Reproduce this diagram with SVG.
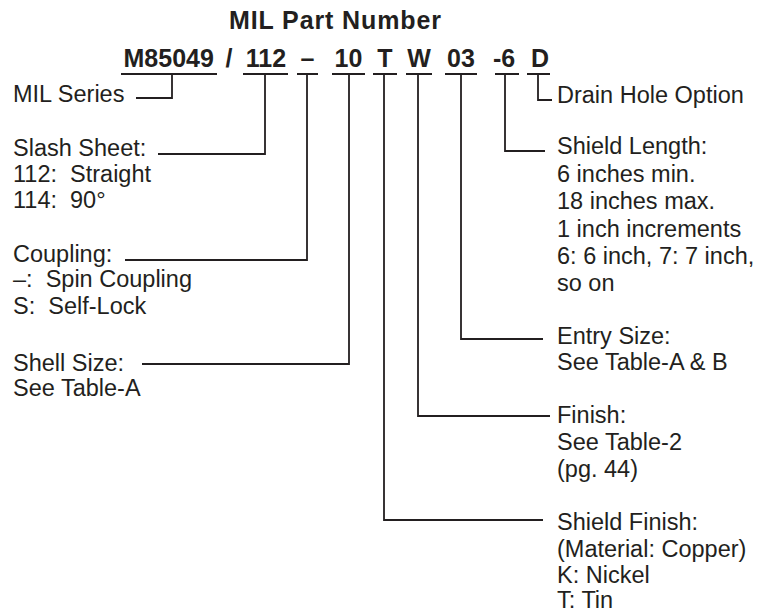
<svg xmlns="http://www.w3.org/2000/svg" width="767" height="614" viewBox="0 0 767 614">
<style>
text{font-family:"Liberation Sans",Arial,Helvetica,sans-serif;fill:#231f20}
.t{font-size:25px;font-weight:bold;text-anchor:middle}
.c{font-size:25px;font-weight:bold;text-anchor:middle}
.l{font-size:23.5px}
.cn{fill:none;stroke:#231f20;stroke-width:1.8}
</style>
<rect width="767" height="614" fill="#ffffff"/>
<g id="title"><text class="t" x="335" y="28.5" textLength="212">MIL Part Number</text></g>
<g id="code">
<text class="c" x="168.7" y="66.7">M85049</text>
<text class="c" x="229" y="66.7">/</text>
<text class="c" x="266" y="66.7">112</text>
<text class="c" x="307.5" y="66.7">–</text>
<text class="c" x="348.5" y="66.7">10</text>
<text class="c" x="385" y="66.7">T</text>
<text class="c" x="419" y="66.7">W</text>
<text class="c" x="461" y="66.7">03</text>
<text class="c" x="504" y="66.7">-6</text>
<text class="c" x="540" y="66.7">D</text>
</g>
<g id="connectors" class="cn">
<path d="M121,74H217M172,74V98H136"/>
<path d="M243,74H288M265,74V154H158"/>
<path d="M297,74H318M307,74V260H125"/>
<path d="M332,74H365M349,74V364H142"/>
<path d="M373,74H397M384,74V520H543"/>
<path d="M406,74H432M418,74V416H550"/>
<path d="M445,74H477M461,74V339H543"/>
<path d="M495,74H519M505,74V151H545"/>
<path d="M527,74H550M538,74V100H552"/>
</g>
<g id="mil-series"><text class="l" x="13" y="101.5">MIL Series</text></g>
<g id="slash-sheet">
<text class="l" x="13" y="155.5">Slash Sheet:</text>
<text class="l" x="13" y="181.5">112:&#160; Straight</text>
<text class="l" x="13" y="208">114:&#160; 90°</text>
</g>
<g id="coupling">
<text class="l" x="13" y="261.5">Coupling:</text>
<text class="l" x="13" y="287">–:&#160; Spin Coupling</text>
<text class="l" x="13" y="314">S:&#160; Self-Lock</text>
</g>
<g id="shell-size">
<text class="l" x="13" y="370.5">Shell Size:</text>
<text class="l" x="13" y="396">See Table-A</text>
</g>
<g id="drain-hole"><text class="l" x="557" y="103.3">Drain Hole Option</text></g>
<g id="shield-length">
<text class="l" x="557" y="154">Shield Length:</text>
<text class="l" x="557" y="181.5">6 inches min.</text>
<text class="l" x="557" y="209">18 inches max.</text>
<text class="l" x="557" y="236.5">1 inch increments</text>
<text class="l" x="557" y="264">6: 6 inch, 7: 7 inch,</text>
<text class="l" x="557" y="290.7">so on</text>
</g>
<g id="entry-size">
<text class="l" x="557" y="344">Entry Size:</text>
<text class="l" x="557" y="370">See Table-A &amp; B</text>
</g>
<g id="finish">
<text class="l" x="557" y="423.3">Finish:</text>
<text class="l" x="557" y="450">See Table-2</text>
<text class="l" x="557" y="476.5">(pg. 44)</text>
</g>
<g id="shield-finish">
<text class="l" x="557" y="530">Shield Finish:</text>
<text class="l" x="557" y="556.7">(Material: Copper)</text>
<text class="l" x="557" y="582.7">K: Nickel</text>
<text class="l" x="557" y="608.3">T: Tin</text>
</g>
</svg>
